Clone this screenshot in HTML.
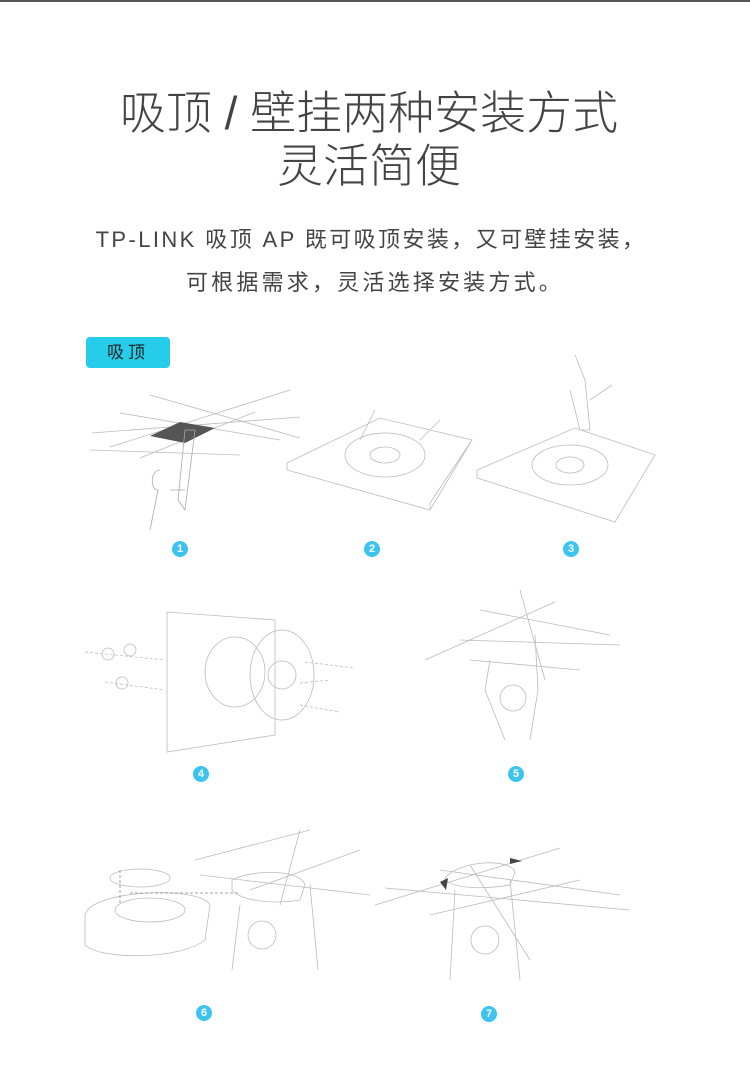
<!DOCTYPE html>
<html><head><meta charset="utf-8"><style>
body{margin:0;width:750px;height:1070px;background:#fff;position:relative;overflow:hidden;font-family:"Liberation Sans","Noto Sans CJK SC",sans-serif}
.top{position:absolute;left:0;top:0;width:750px;height:2px;background:#555}
.t{position:absolute;left:0;width:750px;text-align:center;color:#444}
.n{position:absolute;width:16px;height:16px;border-radius:50%;background:#3cc3f0;color:#fff;font-size:11px;line-height:16px;text-align:center;font-weight:bold}
.tag{position:absolute;left:86px;top:337px;width:84px;height:31px;background:#25cdeb;border-radius:4px;color:#222;font-size:17px;line-height:31px;text-align:center;letter-spacing:4px}
svg{position:absolute;left:0;top:0}
</style></head><body>
<div class="top"></div>
<div class="t" style="top:85px;font-size:46px;line-height:56px;font-weight:300;left:-6px">吸顶 / 壁挂两种安装方式</div>
<div class="t" style="top:138px;font-size:46px;line-height:56px;font-weight:300;left:-6px">灵活简便</div>
<div class="t" style="top:225px;font-size:22px;line-height:30px;letter-spacing:2.4px;left:-4px">TP-LINK 吸顶 AP 既可吸顶安装，又可壁挂安装，</div>
<div class="t" style="top:268px;font-size:22px;line-height:30px;letter-spacing:3.2px">可根据需求，灵活选择安装方式。</div>
<div class="tag">吸顶</div>
<svg width="750" height="1070" fill="none" stroke="#bbb" stroke-width="0.8">
<path d="M92 433 L300 417 M110 447 L290 390 M140 458 L255 412 M120 413 L280 440 M90 450 L240 455 M150 395 L300 438"/>
<polygon points="150,436 180,422 215,428 185,443" fill="#555" stroke="none"/>
<path d="M185 430 L178 500 L185 510 L195 430 Z M160 470 C150 470 150 490 158 490 L150 530 M170 490 L185 490" stroke="#aaa"/>
<path d="M287 463 L380 418 L472 440 L430 510 L287 470 Z M287 463 L287 470 M430 510 L430 503 L472 440"/>
<ellipse cx="385" cy="455" rx="40" ry="22"/><ellipse cx="385" cy="455" rx="15" ry="8"/>
<path d="M360 440 L375 410 M420 440 L440 420"/>
<path d="M477 470 L575 428 L655 455 L615 522 L477 478 Z M477 470 L477 478"/>
<ellipse cx="570" cy="465" rx="38" ry="20"/><ellipse cx="570" cy="465" rx="14" ry="8"/>
<path d="M575 355 L585 380 L590 430 L580 430 L570 390 M590 400 L612 385"/>
<path d="M167 612 L275 620 L275 735 L167 752 Z"/>
<ellipse cx="235" cy="672" rx="30" ry="35"/><ellipse cx="282" cy="675" rx="32" ry="45"/><circle cx="282" cy="675" r="14"/>
<path d="M85 652 L165 660 M105 682 L165 690 M305 662 L355 668 M300 683 L330 680 M300 705 L340 712" stroke-dasharray="3 2"/>
<circle cx="108" cy="654" r="6"/><circle cx="130" cy="650" r="6"/><circle cx="122" cy="683" r="6"/>
<path d="M425 660 L555 602 M480 610 L610 635 M460 640 L620 645 M470 660 L580 670 M520 590 L545 680"/>
<path d="M490 660 L485 690 L505 740 M535 635 L538 690 L530 740"/>
<circle cx="513" cy="698" r="13"/>
<path d="M195 860 L310 830 M200 875 L370 895 M250 890 L360 850 M280 905 L300 830"/>
<ellipse cx="140" cy="878" rx="30" ry="9"/>
<path d="M85 915 C90 890 200 885 210 905 L205 940 C180 960 100 960 85 945 Z"/>
<ellipse cx="150" cy="910" rx="35" ry="12"/>
<path d="M120 870 L120 905 M130 893 L240 893" stroke-dasharray="3 2" stroke="#888"/>
<path d="M232 880 C250 870 300 868 305 885 L300 900 C270 905 240 900 232 890 Z"/>
<path d="M240 905 L232 970 M310 885 L318 970"/><circle cx="262" cy="935" r="14"/>
<path d="M375 905 L560 848 M385 888 L630 910 M430 915 L580 880 M470 865 L530 960 M440 870 L620 895"/>
<path d="M445 878 C460 860 510 858 515 872 L510 885 C480 890 455 888 445 880 Z"/>
<path d="M455 890 L450 980 M510 880 L520 980"/><circle cx="485" cy="940" r="14"/>
<polygon points="440,882 448,878 446,890" fill="#444" stroke="none"/><polygon points="510,858 522,861 510,864" fill="#444" stroke="none"/>
</svg>
<div class="n" style="left:172px;top:541px">1</div>
<div class="n" style="left:364px;top:541px">2</div>
<div class="n" style="left:563px;top:541px">3</div>
<div class="n" style="left:193px;top:766px">4</div>
<div class="n" style="left:508px;top:766px">5</div>
<div class="n" style="left:196px;top:1005px">6</div>
<div class="n" style="left:481px;top:1006px">7</div>
</body></html>
